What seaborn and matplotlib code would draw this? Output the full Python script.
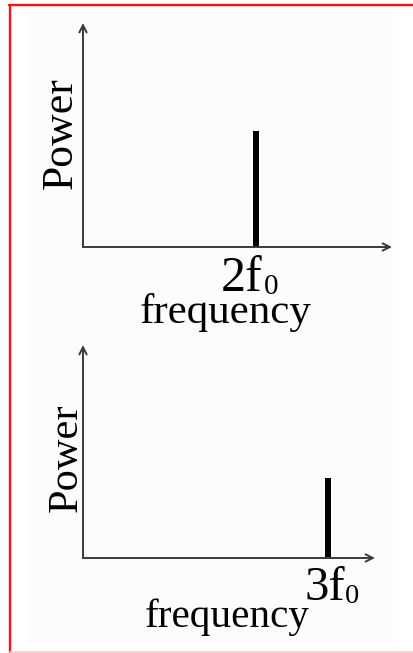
import matplotlib
matplotlib.use("Agg")
import matplotlib.pyplot as plt
import seaborn as sns
import pandas as pd
from matplotlib.lines import Line2D
from matplotlib.patches import Rectangle

# Harmonic spectra: one spectral line per panel
harmonics = [2, 3]                 # multiples of the fundamental f0
harmonic_names = ["2f", "3f"]
harmonic_sub = ["0", "0"]
power = [0.52, 0.375]              # fraction of the power-axis length
freq_max = 3.57                    # right end of the frequency axis (units of f0)
x_label = "frequency"
y_label = "Power"

sns.set_theme(style="white")
plt.rcParams["font.family"] = ["Liberation Serif", "DejaVu Serif"]

W, H = 413, 653
fig = plt.figure(figsize=(W / 100, H / 100), dpi=100)
fig.patch.set_facecolor("white")


def fx(px):
    return px / W


def fy(py):
    return 1 - py / H


# faint panel background and the red frame
fig.add_artist(Rectangle((fx(27), fy(645)), fx(393) - fx(27), (645 - 15) / H,
                         transform=fig.transFigure, facecolor="#fcfcfc",
                         edgecolor="none", zorder=0))
fig.add_artist(Line2D([fx(9), fx(413)], [fy(5), fy(5)], color="#ff1010", lw=1.7))
fig.add_artist(Line2D([fx(10), fx(10)], [fy(5), fy(653)], color="#ff1010", lw=1.7))
fig.add_artist(Line2D([fx(10), fx(413)], [fy(652), fy(652)], color="#ffcccc", lw=1.2))

# axes boxes in pixels: left, arrow tip (top), arrow tip (right), baseline
boxes = [(83, 23, 392, 247), (83, 345, 375, 558)]
label_off = [((-35, -44), (22, -47)), ((-24, -42), (31, -45))]
tick_sizes = [36, 35]
sub_sizes = [21, 20.5]
xlab_pos = [(140, 323, 31), (145, 627, 29.7)]
ylab_pos = [(72, 133, 31.5), (77, 458, 30.5)]
axis_color = "#3a3a3a"

for i, (l, t, r, b) in enumerate(boxes):
    ax = fig.add_axes([fx(l), fy(b), (r - l) / W, (b - t) / H])
    df = pd.DataFrame({"freq": [harmonics[i]], "power": [power[i]]})
    sns.barplot(data=df, x="freq", y="power", native_scale=True, width=0.076,
                color="black", saturation=1, linewidth=0, ax=ax)
    ax.set_xlim(0, freq_max)
    ax.set_ylim(0, 1)
    ax.set_axis_off()

    arrow = dict(arrowstyle="->", color=axis_color, lw=1.4,
                 shrinkA=0, shrinkB=0, mutation_scale=13)
    ax.annotate("", xy=(1, 0), xytext=(0, 0), xycoords="axes fraction",
                textcoords="axes fraction", arrowprops=arrow, annotation_clip=False)
    ax.annotate("", xy=(0, 1), xytext=(0, 0), xycoords="axes fraction",
                textcoords="axes fraction", arrowprops=arrow, annotation_clip=False)

    (dx1, dy1), (dx2, dy2) = label_off[i]
    ax.annotate(harmonic_names[i], xy=(harmonics[i], 0), xycoords="data",
                xytext=(dx1, dy1), textcoords="offset pixels",
                ha="left", va="baseline", fontsize=tick_sizes[i], color="black",
                annotation_clip=False)
    ax.annotate(harmonic_sub[i], xy=(harmonics[i], 0), xycoords="data",
                xytext=(dx2, dy2), textcoords="offset pixels",
                ha="right", va="baseline", fontsize=sub_sizes[i], color="black",
                annotation_clip=False)

    xx, xy, xs = xlab_pos[i]
    fig.text(fx(xx), fy(xy), x_label, ha="left", va="baseline",
             fontsize=xs, color="black")
    yx, yy, ys = ylab_pos[i]
    fig.text(fx(yx), fy(yy), y_label, rotation=90, rotation_mode="anchor",
             ha="center", va="baseline", fontsize=ys, color="black")

fig.savefig("out.png", dpi=100, facecolor="white")
